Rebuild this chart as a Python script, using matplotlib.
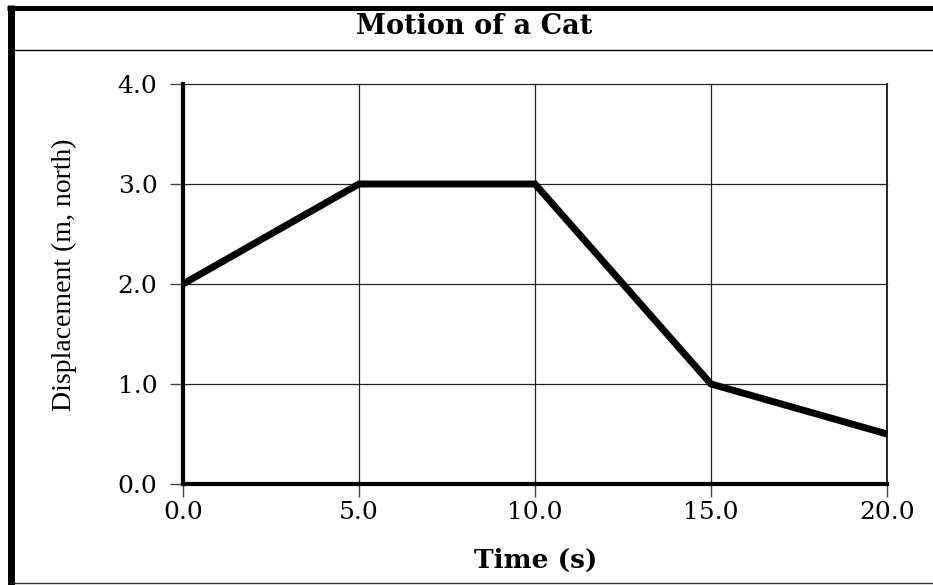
import matplotlib
matplotlib.use('Agg')
from matplotlib import pyplot as plt
from matplotlib.lines import Line2D

# Motion of a cat: displacement vs time
time_s = [0.0, 5.0, 10.0, 15.0, 20.0]
displacement_m = [2.0, 3.0, 3.0, 1.0, 0.5]
x_ticks = [0.0, 5.0, 10.0, 15.0, 20.0]
y_ticks = [0.0, 1.0, 2.0, 3.0, 4.0]

W, H = 933, 585
fig = plt.figure(figsize=(W / 100, H / 100), dpi=100)
ax = fig.add_axes([183 / W, 1 - 484 / H, (887 - 183) / W, (484 - 84) / H])

ax.plot(time_s, displacement_m, color='black', linewidth=5, solid_capstyle='butt',
        solid_joinstyle='miter', zorder=3, clip_on=False)

ax.set_xlim(0, 20)
ax.set_ylim(0, 4)
ax.set_xticks(x_ticks)
ax.set_yticks(y_ticks)
ax.set_xticklabels([f'{v:.1f}' for v in x_ticks], fontfamily='DejaVu Serif', fontsize=18)
ax.set_yticklabels([f'{v:.1f}' for v in y_ticks], fontfamily='DejaVu Serif', fontsize=18)
ax.tick_params(axis='both', length=9.4, width=1, color='#444444')
ax.tick_params(axis='x', pad=3)
ax.tick_params(axis='y', pad=9)
ax.grid(True, color='#222222', linewidth=0.9)
ax.set_axisbelow(True)
for gl in ax.get_xgridlines() + ax.get_ygridlines():
    gl.set_clip_on(False)
# the right-hand gridline is a bit heavier in the original
ax.get_xgridlines()[-1].set_linewidth(1.4)

for side in ['top', 'right']:
    ax.spines[side].set_visible(False)
ax.spines['left'].set_linewidth(3)
ax.spines['bottom'].set_linewidth(3)
ax.spines['left'].set_zorder(4)
ax.spines['bottom'].set_zorder(4)

ax.set_xlabel('Time (s)', fontfamily='DejaVu Serif', fontweight='bold', fontsize=19)
ax.xaxis.set_label_coords((536 - 183) / 704, (484 - 560) / 400)
ax.xaxis.label.set_va('center')
ax.set_ylabel('Displacement (m, north)', fontfamily='Liberation Serif', fontsize=20)
ax.yaxis.set_label_coords((64 - 183) / 704, (484 - 275) / 400)
ax.yaxis.label.set_va('center')

fig.text(474 / W, 1 - 26 / H, 'Motion of a Cat', fontfamily='DejaVu Serif',
         fontweight='bold', fontsize=19.5, ha='center', va='center')

# frame around the chart
fig.add_artist(Line2D([10.5 / W, 10.5 / W], [0, 1 - 5 / H], color='black', linewidth=5,
                      solid_capstyle='butt', transform=fig.transFigure))
fig.add_artist(Line2D([7 / W, 1], [1 - 7.5 / H, 1 - 7.5 / H], color='black', linewidth=3.6,
                      solid_capstyle='butt', transform=fig.transFigure))
fig.add_artist(Line2D([14 / W, 1], [1 - 50 / H, 1 - 50 / H], color='black', linewidth=1,
                      solid_capstyle='butt', transform=fig.transFigure))
fig.add_artist(Line2D([14 / W, 1], [2 / H, 2 / H], color='#333333', linewidth=1,
                      solid_capstyle='butt', transform=fig.transFigure))

fig.savefig('out.png', dpi=100)
